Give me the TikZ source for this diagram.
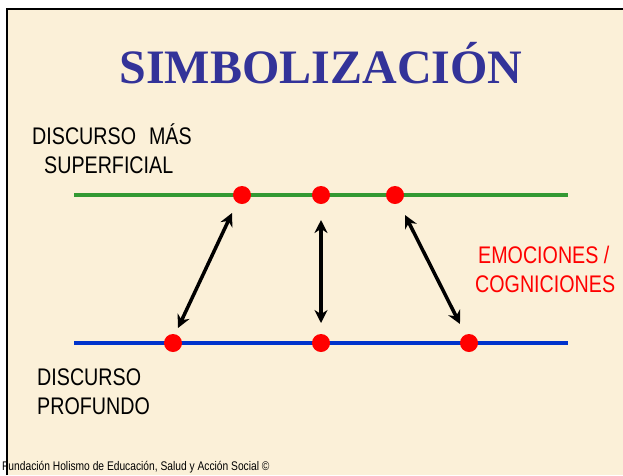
\documentclass[tikz,border=0pt]{standalone}
\usepackage{fontspec}
\setmainfont{Liberation Serif}
\newfontfamily\narrowsans[FakeStretch=0.82]{Liberation Sans}
\usetikzlibrary{arrows.meta}
\definecolor{bgcream}{HTML}{FBF0D8}
\definecolor{titleblue}{HTML}{333399}
\definecolor{linegreen}{HTML}{339933}
\definecolor{lineblue}{HTML}{0033CC}
\definecolor{dotred}{HTML}{FF0000}
\tikzset{
  lbl/.style={anchor=base west, inner sep=0pt, font=\narrowsans\fontsize{24}{28}\selectfont, text=black},
  redlbl/.style={lbl, text=dotred},
  dot/.style={circle, fill=dotred, draw=none, minimum size=18pt, inner sep=0pt},
  link/.style={line width=3.5pt, {Stealth[length=13pt,width=13pt]}-{Stealth[length=13pt,width=13pt]}},
  level/.style={line width=4.5pt}
}
\begin{document}
\begin{tikzpicture}[x=1pt,y=-1pt]
\useasboundingbox (0,0) rectangle (623,475);
\fill[white] (0,0) rectangle (623,475);
\fill[bgcream] (7,9) rectangle (623,475);
\draw[line width=1.5pt] (7,475) -- (7,9) -- (623,9);

\node[anchor=base, inner sep=0pt, text=titleblue, font=\bfseries\fontsize{48}{56}\selectfont] (title) at (321,83) {SIMBOLIZACIÓN};

\node[lbl] (sup1) at (32,144) {DISCURSO\hspace{13pt}MÁS};
\node[lbl] (sup2) at (44,173) {SUPERFICIAL};
\node[lbl] (pro1) at (37,385) {DISCURSO};
\node[lbl] (pro2) at (37,414) {PROFUNDO};
\node[redlbl] (emo1) at (478,263) {EMOCIONES /};
\node[redlbl] (emo2) at (475,292) {COGNICIONES};

\coordinate (gL) at (74,195);
\coordinate (gR) at (568,195);
\coordinate (bL) at (74,343);
\coordinate (bR) at (568,343);
\draw[level, linegreen] (gL) -- (gR);
\draw[level, lineblue] (bL) -- (bR);

\node[dot] (t1) at (242,195) {};
\node[dot] (t2) at (321,195) {};
\node[dot] (t3) at (395,195) {};
\node[dot] (b1) at (173,343) {};
\node[dot] (b2) at (321,343) {};
\node[dot] (b3) at (469,343) {};

\coordinate (a1s) at (178,328);
\coordinate (a1e) at (232,213);
\coordinate (a2s) at (321,220);
\coordinate (a2e) at (321,323);
\coordinate (a3s) at (405,215);
\coordinate (a3e) at (460,324);
\draw[link] (a1s) -- (a1e);
\draw[link] (a2s) -- (a2e);
\draw[link] (a3s) -- (a3e);

\node[anchor=base west, inner sep=0pt, font=\narrowsans\fontsize{12.5}{14}\selectfont] (foot) at (2,470) {Fundación Holismo de Educación, Salud y Acción Social ©};
\end{tikzpicture}
\end{document}
